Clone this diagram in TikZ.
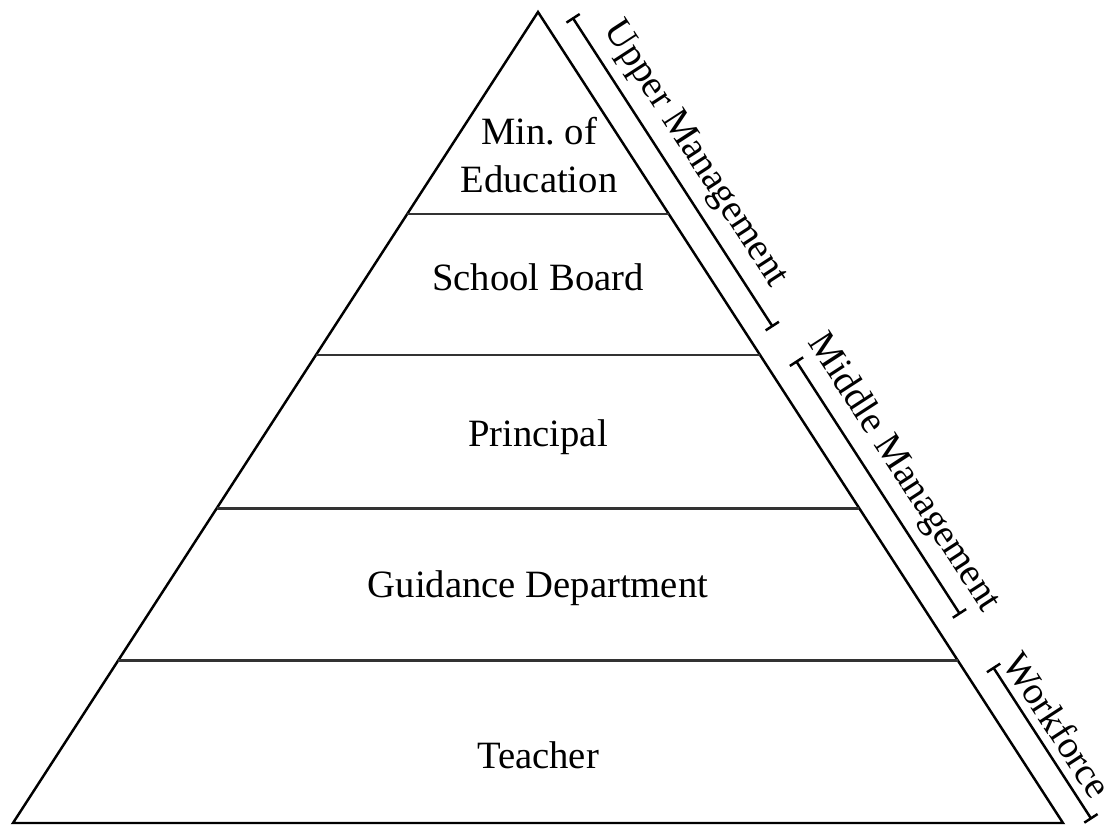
\documentclass[tikz,border=0pt]{standalone}
\usepackage{fontspec}
\setmainfont{Liberation Serif}
\usetikzlibrary{arrows.meta}
\usetikzlibrary{calc}

\begin{document}
\begin{tikzpicture}[
    level/.style={font=\fontsize{11}{13.5}\selectfont, align=center},
    band/.style={font=\fontsize{11}{13.5}\selectfont, rotate=-57},
    span/.style={line width=0.7pt, {Bar[width=4.5pt]}-{Bar[width=4.5pt]}}
]
    \useasboundingbox (0, 0) rectangle (11.13, 8.28);
    \coordinate (top) at (5.38, 8.16);
    \coordinate (bl) at (0.13, 0.05);
    \coordinate (br) at (10.63, 0.05);
    \draw[line width=0.7pt, line join=miter] (bl) -- (top) -- (br) -- cycle;
    \foreach \t/\n in {0.249/1, 0.423/2, 0.612/3, 0.800/4} {
        \coordinate (l\n) at ($(top)!\t!(bl)$);
        \coordinate (r\n) at ($(top)!\t!(br)$);
        \draw[line width=0.8pt, black!80] (l\n) -- (r\n);
    }
    \node[level] (min) at (5.39, 6.73) {Min.\ of\\Education};
    \node[level] (board) at (5.38, 5.51) {School Board};
    \node[level] (principal) at (5.38, 3.91) {Principal};
    \node[level] (guidance) at (5.38, 2.40) {Guidance Department};
    \node[level] (teacher) at (5.38, 0.73) {Teacher};
    % brackets along the right edge
    \coordinate (ua) at ($(top)!0.024!(br) + (33:0.26)$);
    \coordinate (ub) at ($(top)!0.406!(br) + (33:0.26)$);
    \coordinate (ma) at ($(top)!0.448!(br) + (33:0.27)$);
    \coordinate (mb) at ($(top)!0.761!(br) + (33:0.27)$);
    \coordinate (wa) at ($(top)!0.825!(br) + (33:0.26)$);
    \coordinate (wb) at ($(top)!1.013!(br) + (33:0.26)$);
    \draw[span] (ua) -- (ub);
    \draw[span] (ma) -- (mb);
    \draw[span] (wa) -- (wb);
    \node[band] (upper) at ($(top)!0.212!(br) + (33:0.54)$) {Upper Management};
    \node[band] (middle) at ($(top)!0.606!(br) + (33:0.56)$) {Middle Management};
    \node[band] (work) at ($(top)!0.912!(br) + (33:0.49)$) {Workforce};
\end{tikzpicture}
\end{document}
